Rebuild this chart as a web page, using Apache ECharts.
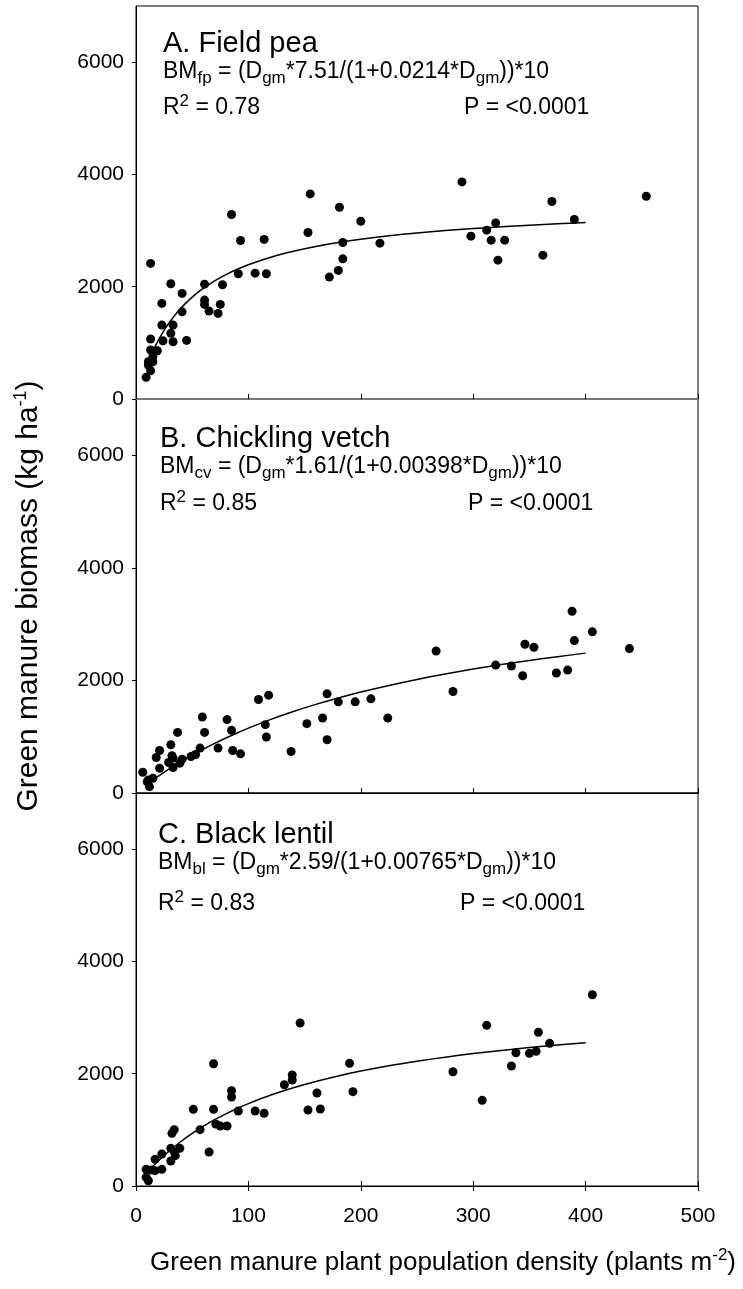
<!DOCTYPE html>
<html><head><meta charset="utf-8">
<script src="https://cdn.jsdelivr.net/npm/echarts@6/dist/echarts.min.js"></script>
<style>html,body{margin:0;padding:0;background:#fff}#c{width:743px;height:1289px}</style>
</head><body><div id="c"></div>
<script>
// ---- data ----
const xTickValues = [0, 100, 200, 300, 400, 500];
const yTickValues = [0, 2000, 4000, 6000];

// A. Field pea
const peaX = [13,85,155,181,200,153,93,114,184,217,184,180,172,91,106,116,31,61,77,41,23,61,61,75,41,65,73,23,33,31,13,24,33,45,13,19,15,11,15,11,13,9,290,370,454,390,320,312,298,316,328,322,362];
const peaY = [2415,3286,3653,3416,3167,2966,2824,2842,2788,2776,2497,2290,2171,2230,2242,2230,2052,2046,2034,1881,1703,1762,1685,1685,1553,1566,1525,1317,1317,1169,1068,1038,1020,1044,872,860,753,664,664,605,504,386,3867,3517,3612,3197,3137,3007,2900,2829,2829,2473,2562];
// fitted curve BM = D*7.51/(1+0.0214*D)*10, values read at these densities
const peaFitX = [15,20,25,30,40,50,60,70,80,90,100,120,140,160,180,200,225,250,275,300,325,350,375,400];
const peaFitY = [853,1052,1223,1372,1619,1814,1973,2105,2215,2310,2392,2526,2631,2716,2786,2845,2906,2957,3000,3036,3068,3096,3121,3142];

// B. Chickling vetch
const vetchX = [267,109,118,170,180,195,209,59,81,115,166,152,224,37,61,85,116,170,31,73,86,93,138,21,18,32,57,49,53,41,29,39,33,21,6,15,11,12,10,33,388,406,390,346,354,439,320,334,344,374,384,282];
const vetchY = [2523,1661,1738,1762,1619,1619,1673,1351,1304,1214,1333,1232,1333,1077,1077,1113,994,946,857,798,756,696,738,756,631,661,798,649,685,601,542,530,452,440,369,262,232,113,200,620,3227,2863,2708,2643,2589,2566,2273,2256,2083,2131,2184,1804];
const vetchFitX = [12,20,30,40,50,60,70,80,90,100,120,140,160,180,200,225,250,275,300,325,350,375,400];
const vetchFitY = [184,298,432,556,671,780,881,977,1067,1152,1308,1448,1574,1688,1793,1911,2018,2114,2202,2282,2355,2422,2485];

// C. Black lentil
const lentilX = [146,69,190,139,139,132,85,85,161,193,51,69,91,106,114,153,164,57,71,75,81,34,32,65,39,31,35,31,23,17,23,17,9,9,11,14,34,406,312,358,368,338,350,356,334,282,308];
const lentilY = [2903,2178,2185,1977,1888,1804,1697,1585,1656,1680,1366,1366,1336,1336,1295,1354,1371,1003,1104,1069,1069,1003,938,605,671,671,540,445,570,475,297,273,297,155,94,285,611,3407,2862,2737,2541,2374,2363,2399,2137,2036,1526];
const lentilFitX = [8,12,16,20,30,40,50,60,70,80,90,100,120,140,160,180,200,225,250,275,300,325,350,375,400];
const lentilFitY = [195,285,369,449,632,793,937,1065,1181,1285,1381,1467,1620,1751,1863,1961,2047,2142,2223,2295,2358,2415,2465,2511,2552];

// ---- chart ----
const FONT = 'Liberation Sans, Arial, sans-serif';
const zip = (xs, ys) => xs.map((x, i) => [x, ys[i]]);
const richBase = {
  m: {fontSize: 23, lineHeight: 30, fontFamily: FONT, fontWeight: 'normal', color: '#000'},
  s: {fontSize: 17, lineHeight: 20, verticalAlign: 'bottom', fontFamily: FONT, fontWeight: 'normal', color: '#000'},
  p: {fontSize: 17, lineHeight: 12, verticalAlign: 'top', fontFamily: FONT, fontWeight: 'normal', color: '#000'}
};
const grids = [
  {left: 136, right: 45, top: 6, height: 393},
  {left: 136, right: 45, top: 399, height: 394},
  {left: 136, right: 45, top: 793, height: 393}
].map(g => Object.assign(g, {show: true, borderColor: '#000', borderWidth: 1, backgroundColor: 'transparent'}));

function xAxisFor(i, withLabels, opts) {
  return Object.assign({
    type: 'value', gridIndex: i, min: 0, max: 500, interval: 100, position: 'bottom',
    splitLine: {show: false},
    axisLine: {show: true, lineStyle: {color: '#000', width: 1}},
    axisTick: {show: true, inside: !withLabels, length: 5, lineStyle: {color: '#000'}},
    axisLabel: {show: withLabels, fontSize: 21, color: '#000', fontFamily: FONT, margin: 20,
      customValues: xTickValues, formatter: v => String(v)}
  }, opts || {});
}
function yAxisFor(i, opts) {
  return Object.assign({
    type: 'value', gridIndex: i, min: 0, max: 7000,
    splitLine: {show: false},
    axisLine: {show: true, lineStyle: {color: '#000', width: 1}},
    axisTick: {show: true, inside: false, length: 4, customValues: yTickValues, lineStyle: {color: '#000'}},
    axisLabel: {show: true, fontSize: 21, color: '#000', fontFamily: FONT, margin: 12,
      customValues: yTickValues, formatter: v => String(v)}
  }, opts || {});
}

function panelTitles(heading, sub, coef1, coef2, r2, top, rGap, left, pLeft) {
  const t = [top - 28, top, top + rGap];
  return [
    {text: heading, left: left, top: t[0], padding: 0, textStyle: {fontSize: 29, fontWeight: 'normal', fontFamily: FONT, color: '#000', lineHeight: 29}},
    {text: '{m|BM}{s|' + sub + '}{m| = (D}{s|gm}{m|*' + coef1 + '/(1+' + coef2 + '*D}{s|gm}{m|))*10}',
     left: left, top: t[1], padding: 0, textStyle: {fontWeight: 'normal', rich: richBase}},
    {text: '{m|R}{p|2}{m| = ' + r2 + '}', left: left, top: t[2], padding: 0, textStyle: {fontWeight: 'normal', rich: richBase}},
    {text: '{m|P = <0.0001}', left: pLeft, top: t[2], padding: 0, textStyle: {fontWeight: 'normal', rich: richBase}}
  ];
}

const fitLine = {color: '#000', width: 1.5};
const dot = {color: '#000', opacity: 1};

const option = {
  animation: false,
  backgroundColor: '#fff',
  title: [].concat(
    panelTitles('A. Field pea', 'fp', '7.51', '0.0214', '0.78', 57, 36, 163, 464),
    panelTitles('B. Chickling vetch', 'cv', '1.61', '0.00398', '0.85', 452, 37, 160, 468),
    panelTitles('C. Black lentil', 'bl', '2.59', '0.00765', '0.83', 848, 41, 158, 460)
  ),
  grid: grids,
  xAxis: [
    xAxisFor(0, false, {axisLine: {show: true, lineStyle: {color: '#777', width: 2}}}),
    xAxisFor(1, false),
    xAxisFor(2, true, {
      name: '{a|Green manure plant population density (plants m}{b|-2}{a|)}',
      nameLocation: 'middle', nameGap: 61,
      nameTextStyle: {padding: [0, 0, 0, 52], rich: {
        a: {fontSize: 26, fontFamily: FONT, color: '#000', lineHeight: 32},
        b: {fontSize: 17, fontFamily: FONT, color: '#000', lineHeight: 14, verticalAlign: 'top'}
      }}
    }),
    xAxisFor(2, false, {axisLine: {show: false}, axisTick: {show: true, inside: true, length: 5, lineStyle: {color: '#000'}}})
  ],
  yAxis: [
    yAxisFor(0),
    yAxisFor(1, {
      name: '{a|Green manure biomass (kg ha}{b|-1}{a|)}',
      nameLocation: 'middle', nameRotate: 90, nameGap: 90,
      nameTextStyle: {rich: {
        a: {fontSize: 30, fontFamily: FONT, color: '#000', lineHeight: 34},
        b: {fontSize: 18, fontFamily: FONT, color: '#000', lineHeight: 14, verticalAlign: 'top'}
      }}
    }),
    yAxisFor(2)
  ],
  series: [
    {type: 'scatter', xAxisIndex: 0, yAxisIndex: 0, data: zip(peaX, peaY), symbolSize: 9, itemStyle: dot},
    {type: 'line', xAxisIndex: 0, yAxisIndex: 0, data: zip(peaFitX, peaFitY), smooth: 0.3, showSymbol: false, lineStyle: fitLine},
    {type: 'scatter', xAxisIndex: 1, yAxisIndex: 1, data: zip(vetchX, vetchY), symbolSize: 9, itemStyle: dot},
    {type: 'line', xAxisIndex: 1, yAxisIndex: 1, data: zip(vetchFitX, vetchFitY), smooth: 0.3, showSymbol: false, lineStyle: fitLine},
    {type: 'scatter', xAxisIndex: 2, yAxisIndex: 2, data: zip(lentilX, lentilY), symbolSize: 9, itemStyle: dot},
    {type: 'line', xAxisIndex: 2, yAxisIndex: 2, data: zip(lentilFitX, lentilFitY), smooth: 0.3, showSymbol: false, lineStyle: fitLine}
  ]
};
const chart = echarts.init(document.getElementById('c'), null, {renderer: 'canvas'});
chart.setOption(option);
</script>
</body></html>
